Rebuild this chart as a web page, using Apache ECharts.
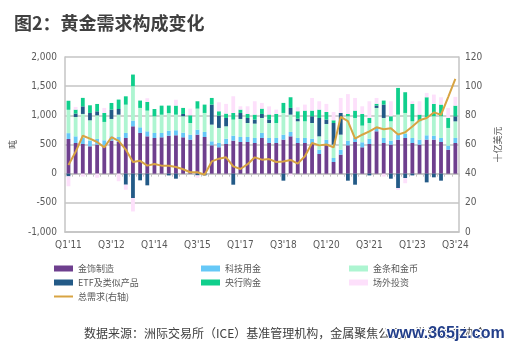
<!DOCTYPE html>
<html>
<head>
<meta charset="utf-8">
<script src="https://cdn.jsdelivr.net/npm/echarts@6/dist/echarts.min.js"></script>
<style>
  html, body { margin: 0; padding: 0; background: #fff; }
  #charts { width: 510px; height: 352px; }
</style>
</head>
<body>
<div id="charts"></div>
<script>
// 季度
var quarters = [
  "Q1'11","Q2'11","Q3'11","Q4'11","Q1'12","Q2'12","Q3'12","Q4'12",
  "Q1'13","Q2'13","Q3'13","Q4'13","Q1'14","Q2'14","Q3'14","Q4'14",
  "Q1'15","Q2'15","Q3'15","Q4'15","Q1'16","Q2'16","Q3'16","Q4'16",
  "Q1'17","Q2'17","Q3'17","Q4'17","Q1'18","Q2'18","Q3'18","Q4'18",
  "Q1'19","Q2'19","Q3'19","Q4'19","Q1'20","Q2'20","Q3'20","Q4'20",
  "Q1'21","Q2'21","Q3'21","Q4'21","Q1'22","Q2'22","Q3'22","Q4'22",
  "Q1'23","Q2'23","Q3'23","Q4'23","Q1'24","Q2'24","Q3'24"
];

// 各项需求（吨）
var jewellery = [595,526,509,469,498,469,566,543,612,812,698,640,611,623,651,658,623,583,669,629,
  486,452,509,566,543,543,526,612,526,526,583,640,526,526,509,337,509,200,326,486,
  543,452,509,726,526,498,583,612,526,498,583,583,543,411,526];
var technology = [100,114,103,97,97,103,74,86,86,97,97,86,86,74,86,86,80,86,86,86,
  69,74,91,86,86,86,86,86,86,86,86,75,86,86,91,75,74,69,86,80,
  69,86,91,69,86,68,86,69,86,85,75,69,69,69,86];
var barCoin = [400,332,412,349,405,315,298,383,485,590,332,355,286,314,300,268,281,200,360,326,
  286,258,212,275,309,240,246,257,257,257,372,297,286,286,269,228,269,229,257,418,
  343,286,269,332,343,332,343,360,286,315,309,332,372,304,285];
var etf = [-46,58,130,126,69,0,160,97,-189,-418,-114,-200,0,0,-30,-86,40,0,-30,-30,
  343,211,143,-189,103,86,69,69,60,0,-120,115,46,0,115,315,75,371,372,-120,
  -189,0,-30,40,229,-86,-246,-74,-30,0,-149,-63,-120,0,86];
var centralBank = [155,68,145,131,126,154,114,161,143,200,126,149,125,155,130,155,103,132,126,143,
  114,75,75,114,57,69,85,91,85,155,172,183,126,183,97,143,131,46,0,40,
  126,200,86,31,69,86,458,355,298,114,343,212,200,171,183];
var otc = [-170,46,-50,0,-70,86,0,-130,-86,-230,0,63,0,0,0,100,0,114,-40,0,
  0,154,166,286,57,131,229,98,140,74,0,-30,68,103,217,143,138,143,257,340,
  217,131,286,100,-50,257,-30,-90,45,229,74,160,126,172,150];

// 总需求（十亿美元，右轴）
var totalValue = [46,55,66,64,61.7,58,65,62.5,56.5,48,48.8,45.5,46.6,45.5,45.5,44.6,43,41,41,39.3,
  48.4,50.3,51.2,45,43.2,46.5,51.2,49.6,50,48,48.4,49.4,46.9,51.9,61,59.4,60,58,79,76,
  64,66.7,69,71.8,70.5,71.2,66.8,68.4,72.4,76.6,78.2,82,80.4,92.5,105];

var axisFont = "'Liberation Sans Narrow', 'DejaVu Sans Condensed', 'Liberation Sans', sans-serif";
var cjkFont = "'Noto Sans CJK SC', sans-serif";
var gridColor = '#c4c4c4';

function barSeries(name, data, color) {
  return {
    name: name, type: 'bar', stack: 'tons', data: data,
    barWidth: 3.8, itemStyle: { color: color }
  };
}

var legendText = { fontSize: 9, color: '#595959', fontFamily: cjkFont };

var myChart = echarts.init(document.getElementById('charts'));
var option = {
  animation: false,
  grid: { left: 50, right: 47, top: 57, bottom: 120 },
  graphic: [
    { type: 'text', left: 14, top: 14,
      style: { text: '图2：黄金需求构成变化', font: 'bold 18px ' + cjkFont, fill: '#404040' } },
    { type: 'text', left: 84, top: 327,
      style: { text: '数据来源：洲际交易所（ICE）基准管理机构，金属聚焦公司，世界黄金协会',
        font: '12px ' + cjkFont, fill: '#404040' } },
    { type: 'text', left: 386, top: 325,
      style: { text: 'www.365jz.com', font: 'bold 16px "Liberation Sans", sans-serif',
        fill: '#233f8a', stroke: '#fff', lineWidth: 2 } }
  ],
  legend: [
    { left: 48, top: 259, orient: 'vertical', itemWidth: 19, itemHeight: 6, itemGap: 5,
      textStyle: legendText,
      data: [{ name: '金饰制造', icon: 'rect' }, { name: 'ETF及类似产品', icon: 'rect' },
        { name: '总需求(右轴)', itemStyle: { opacity: 0 } }] },
    { left: 196, top: 259, orient: 'vertical', itemWidth: 19, itemHeight: 6, itemGap: 5,
      textStyle: legendText,
      data: [{ name: '科技用金', icon: 'rect' }, { name: '央行购金', icon: 'rect' }] },
    { left: 344, top: 259, orient: 'vertical', itemWidth: 19, itemHeight: 6, itemGap: 5,
      textStyle: legendText,
      data: [{ name: '金条和金币', icon: 'rect' }, { name: '场外投资', icon: 'rect' }] }
  ],
  xAxis: [
    { type: 'category', data: quarters, position: 'bottom',
      axisLine: { onZero: false, lineStyle: { color: gridColor, width: 1.5 } },
      axisTick: { show: false },
      axisLabel: { interval: 5, fontSize: 10, color: '#595959', fontFamily: axisFont, margin: 8 } },
    // 0线上的刻度
    { type: 'category', data: quarters, position: 'top',
      axisLine: { onZero: true, lineStyle: { color: gridColor, width: 1.5 } },
      axisTick: { show: true, inside: true, length: 3, interval: 0, lineStyle: { color: gridColor } },
      axisLabel: { show: false } }
  ],
  yAxis: [
    { type: 'value', min: -1000, max: 2000, interval: 500,
      name: '吨', nameLocation: 'middle', nameRotate: 90, nameGap: 30,
      nameTextStyle: { fontSize: 9, color: '#595959', fontFamily: cjkFont },
      axisLine: { show: true, lineStyle: { color: gridColor, width: 1.5 } },
      splitLine: { lineStyle: { color: gridColor, width: 1.5 } },
      axisLabel: { fontSize: 10, color: '#595959', fontFamily: axisFont, margin: 8,
        formatter: function (v) { return v.toLocaleString('en-US'); } } },
    { type: 'value', min: 0, max: 120, interval: 20, position: 'right',
      name: '十亿美元', nameLocation: 'middle', nameRotate: 90, nameGap: 28,
      nameTextStyle: { fontSize: 9, color: '#595959', fontFamily: cjkFont },
      axisLine: { show: true, lineStyle: { color: gridColor, width: 1.5 } },
      splitLine: { show: false },
      axisLabel: { fontSize: 10, color: '#595959', fontFamily: axisFont, margin: 6 } }
  ],
  series: [
    barSeries('金饰制造', jewellery, '#6e3f8e'),
    barSeries('科技用金', technology, '#66c8f7'),
    barSeries('金条和金币', barCoin, '#adf5d1'),
    barSeries('ETF及类似产品', etf, '#235a87'),
    barSeries('央行购金', centralBank, '#10cf8c'),
    barSeries('场外投资', otc, '#fde0fb'),
    { name: '总需求(右轴)', type: 'line', yAxisIndex: 1, data: totalValue,
      symbol: 'none', z: 10,
      lineStyle: { color: '#d8a443', width: 2 }, itemStyle: { color: '#d8a443' } }
  ]
};
myChart.setOption(option);
</script>
</body>
</html>
